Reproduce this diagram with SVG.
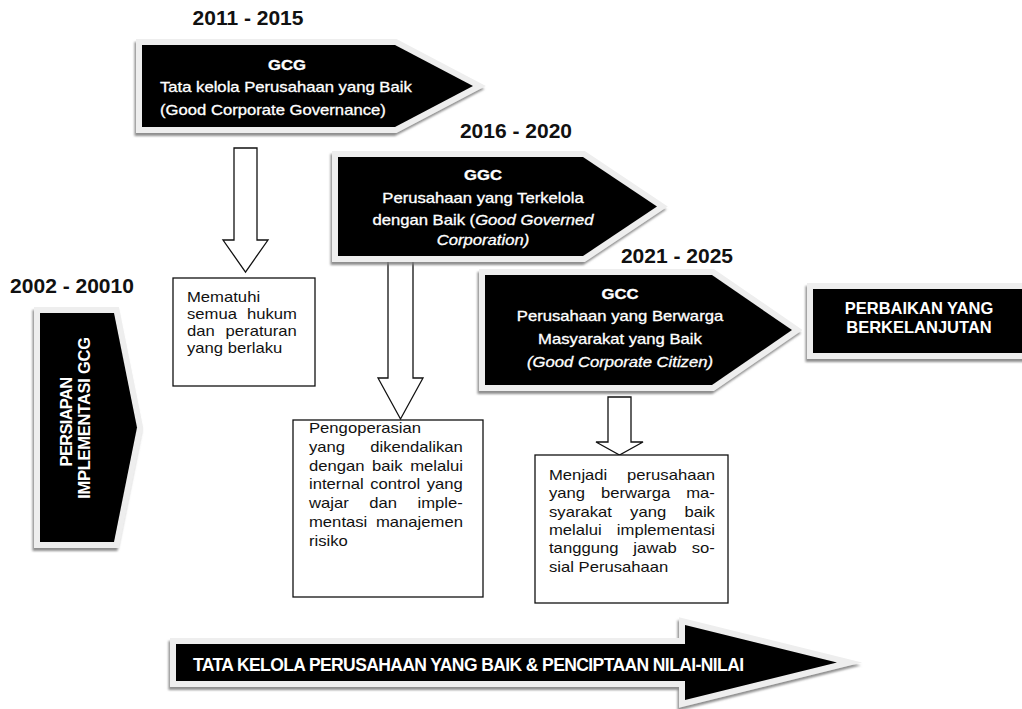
<svg xmlns="http://www.w3.org/2000/svg" width="1022" height="709" viewBox="0 0 1022 709">
<defs>
<filter id="sh" filterUnits="userSpaceOnUse" x="-20" y="-20" width="1062" height="749">
<feDropShadow dx="-1.5" dy="3" stdDeviation="1.2" flood-color="#7a7a7a" flood-opacity="0.85"/>
</filter>
</defs>
<style>
.frame{fill:#eeeeee;stroke:#eeeeee;stroke-width:12;stroke-linejoin:miter;stroke-miterlimit:10;filter:url(#sh)}
.body{fill:#000}
.year{font-family:"Liberation Sans",Arial,sans-serif;font-weight:bold;font-size:21px;fill:#111;text-anchor:middle}
.wt{font-family:"Liberation Sans",Arial,sans-serif;font-size:14px;fill:#fff;stroke:#fff;stroke-width:0.3}
.wb{font-weight:bold}
.it{font-style:italic}
.mid{text-anchor:middle}
.big{font-family:"Liberation Sans",Arial,sans-serif;font-weight:bold;fill:#fff}
.bx{fill:#fff;stroke:#111;stroke-width:1.3}
.bt{font-family:"Liberation Sans",Arial,sans-serif;font-size:14px;fill:#111}
.conn{fill:#fff;stroke:#111;stroke-width:1.3;stroke-linejoin:miter}
</style>
<rect width="1022" height="709" fill="#fff"/>

<g id="connectors">
<polygon class="conn" points="234,148 257,148 257,240 268,240 245.5,272 223,240 234,240"/>
<polygon class="conn" points="388,255 413,255 413,378 423,378 400.5,419 378,378 388,378"/>
<polygon class="conn" points="608,397 631,397 631,442 643,442 619.5,455 596,442 608,442"/>
</g>

<g id="node-gcg">
<text class="year" x="248" y="25">2011 - 2015</text>
<polygon class="frame" points="142,45 395,45 473,86 395,127 142,127"/>
<polygon class="body" points="142,45 395,45 473,86 395,127 142,127"/>
<g transform="translate(287 0) scale(1.19 1)"><text class="wt wb mid" x="0" y="70">GCG</text></g>
<g transform="translate(160 0) scale(1.19 1)">
<text class="wt" x="0" y="92">Tata kelola Perusahaan yang Baik</text>
<text class="wt" x="0" y="115">(Good Corporate Governance)</text>
</g>
</g>

<g id="node-ggc">
<text class="year" x="516" y="138">2016 - 2020</text>
<polygon class="frame" points="338,157 583,157 657,206.5 583,256 338,256"/>
<polygon class="body" points="338,157 583,157 657,206.5 583,256 338,256"/>
<g transform="translate(483 0) scale(1.19 1)">
<text class="wt wb mid" x="0" y="180">GGC</text>
<text class="wt mid" x="0" y="203">Perusahaan yang Terkelola</text>
<text class="wt mid" x="0" y="225">dengan Baik (<tspan class="it">Good Governed</tspan></text>
<text class="wt mid it" x="0" y="245">Corporation)</text>
</g>
</g>

<g id="node-gcc">
<text class="year" x="677" y="263">2021 - 2025</text>
<polygon class="frame" points="485,275 712,275 792,330 712,385 485,385"/>
<polygon class="body" points="485,275 712,275 792,330 712,385 485,385"/>
<g transform="translate(620 0) scale(1.19 1)">
<text class="wt wb mid" x="0" y="299">GCC</text>
<text class="wt mid" x="0" y="321">Perusahaan yang Berwarga</text>
<text class="wt mid" x="0" y="344">Masyarakat yang Baik</text>
<text class="wt mid it" x="0" y="367">(Good Corporate Citizen)</text>
</g>
</g>

<g id="node-perbaikan">
<rect class="frame" x="813" y="289" width="215" height="64"/>
<rect class="body" x="813" y="289" width="215" height="64"/>
<text class="big mid" x="919" y="314" font-size="16.5">PERBAIKAN YANG</text>
<text class="big mid" x="919" y="333" font-size="16.5">BERKELANJUTAN</text>
</g>

<g id="node-persiapan">
<text class="year" x="72" y="293">2002 - 20010</text>
<polygon class="frame" points="40,313 114,313 137,427.5 114,542 40,542"/>
<polygon class="body" points="40,313 114,313 137,427.5 114,542 40,542"/>
<text class="big mid" font-size="16.5" letter-spacing="-0.7" transform="translate(72 422) rotate(-90)" x="0" y="0">PERSIAPAN</text>
<text class="big mid" font-size="16.5" letter-spacing="-0.25" transform="translate(90 418) rotate(-90)" x="0" y="0">IMPLEMENTASI GCG</text>
</g>

<g id="node-box1">
<rect class="bx" x="173" y="278" width="142" height="108"/>
<g transform="translate(187 0) scale(1.19 1)">
<text class="bt" x="0" y="302">Mematuhi</text>
<text class="bt" x="0" y="319" word-spacing="4.5">semua hukum</text>
<text class="bt" x="0" y="336" word-spacing="5.2">dan peraturan</text>
<text class="bt" x="0" y="353">yang berlaku</text>
</g>
</g>

<g id="node-box2">
<rect class="bx" x="293" y="420" width="190" height="177"/>
<g transform="translate(309 0) scale(1.19 1)">
<text class="bt" x="0" y="433">Pengoperasian</text>
<text class="bt" x="0" y="452" word-spacing="17.3">yang dikendalikan</text>
<text class="bt" x="0" y="471" word-spacing="2.45">dengan baik melalui</text>
<text class="bt" x="0" y="489" word-spacing="1.65">internal control yang</text>
<text class="bt" x="0" y="508" word-spacing="13.3">wajar dan imple-</text>
<text class="bt" x="0" y="527" word-spacing="3.4">mentasi manajemen</text>
<text class="bt" x="0" y="546">risiko</text>
</g>
</g>

<g id="node-box3">
<rect class="bx" x="535" y="455" width="193" height="148"/>
<g transform="translate(549 0) scale(1.19 1)">
<text class="bt" x="0" y="480" word-spacing="12.7">Menjadi perusahaan</text>
<text class="bt" x="0" y="498" word-spacing="9.45">yang berwarga ma-</text>
<text class="bt" x="0" y="517" word-spacing="11.4">syarakat yang baik</text>
<text class="bt" x="0" y="535" word-spacing="8.8">melalui implementasi</text>
<text class="bt" x="0" y="553" word-spacing="8.65">tanggung jawab so-</text>
<text class="bt" x="0" y="572">sial Perusahaan</text>
</g>
</g>

<g id="node-bottom">
<polygon class="frame" points="176,644 685,644 685,625 837,662.5 685,700 685,681 176,681"/>
<polygon class="body" points="176,644 685,644 685,625 837,662.5 685,700 685,681 176,681"/>
<text class="big" x="193" y="671" font-size="17.5" letter-spacing="-0.6">TATA KELOLA PERUSAHAAN YANG BAIK &amp; PENCIPTAAN NILAI-NILAI</text>
</g>
</svg>
